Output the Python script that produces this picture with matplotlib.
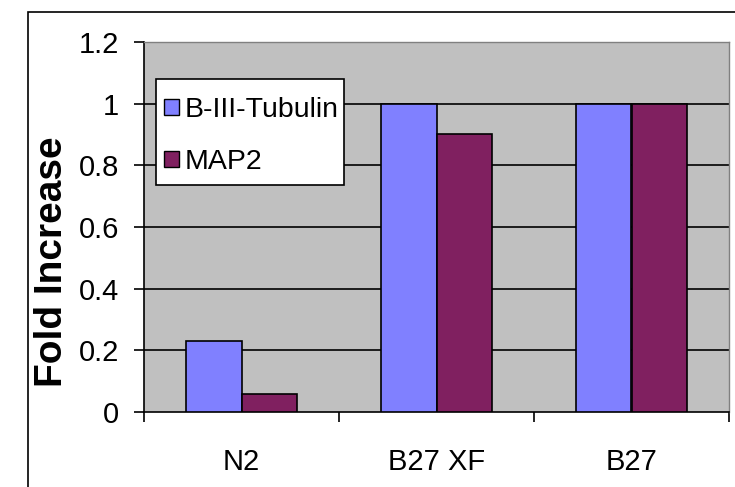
import matplotlib
matplotlib.use("Agg")
import matplotlib.pyplot as plt
import matplotlib.patches as mpatches
import numpy as np

plt.rcParams['font.family'] = ['Liberation Sans', 'DejaVu Sans']

categories = ["N2", "B27 XF", "B27"]
series_names = ["B-III-Tubulin", "MAP2"]
tubulin = [0.23, 1.0, 1.0]
map2 = [0.06, 0.9, 1.0]
colors = ["#8080FF", "#802060"]
yticks = [0, 0.2, 0.4, 0.6, 0.8, 1.0, 1.2]
ytick_labels = ["0", "0.2", "0.4", "0.6", "0.8", "1", "1.2"]

W, H = 735, 487
fig = plt.figure(figsize=(W/100, H/100), dpi=100)
fig.patch.set_facecolor("white")

def fx(px):
    return px / W

def fy(py):
    return 1 - py / H

# outer chart border
border = mpatches.Rectangle((fx(28), -0.05), 1.1, fy(12) + 0.05, transform=fig.transFigure,
                            fill=False, edgecolor="black", linewidth=1.2)
fig.patches.append(border)

ax = fig.add_axes([fx(144), fy(412), (729 - 144)/W, (412 - 42)/H])
ax.set_facecolor("#C0C0C0")

x = np.arange(len(categories))
w = 0.285
ax.bar(x - w/2, tubulin, width=w, color=colors[0], edgecolor="black", linewidth=1.2,
       label=series_names[0], zorder=3)
ax.bar(x + w/2, map2, width=w, color=colors[1], edgecolor="black", linewidth=1.2,
       label=series_names[1], zorder=3)

ax.set_xlim(-0.5, len(categories) - 0.5)
ax.set_ylim(0, 1.2)
ax.set_yticks(yticks)
ax.set_yticklabels(ytick_labels, fontsize=21)
for yv in yticks[1:]:
    ax.axhline(yv, color="black", linewidth=1.2, zorder=1)

ax.set_xticks(np.arange(-0.5, len(categories), 1.0))
ax.set_xticklabels([])
ax.set_xticks(x, minor=True)
ax.set_xticklabels(categories, minor=True, fontsize=21)
ax.tick_params(axis="x", which="minor", length=0, pad=26)
ax.tick_params(axis="x", which="major", length=7, width=1.2, direction="out")
ax.tick_params(axis="y", length=7, width=1.2, direction="out", pad=11)

for s in ["top", "right"]:
    ax.spines[s].set_color("#808080")
    ax.spines[s].set_linewidth(1.0)
for s in ["left", "bottom"]:
    ax.spines[s].set_color("black")
    ax.spines[s].set_linewidth(1.2)

fig.text(fx(52), fy(262), "Fold Increase", rotation=90, fontsize=28, fontweight="bold",
         ha="center", va="center")

# legend (drawn as a white framed box with square keys)
leg_box = mpatches.Rectangle((fx(156), fy(185)), (344 - 156)/W, (185 - 79)/H,
                             transform=fig.transFigure, facecolor="white",
                             edgecolor="black", linewidth=1.2, zorder=10)
fig.patches.append(leg_box)
row_centers = [107, 159]
for name, col, cy in zip(series_names, colors, row_centers):
    sq = mpatches.Rectangle((fx(164), fy(cy + 8)), 15/W, 16/H, transform=fig.transFigure,
                            facecolor=col, edgecolor="black", linewidth=1.0, zorder=11)
    fig.patches.append(sq)
    fig.text(fx(185), fy(cy), name, fontsize=20.5, ha="left", va="center_baseline",
             zorder=12)

fig.savefig("out.png", dpi=100, facecolor="white")
